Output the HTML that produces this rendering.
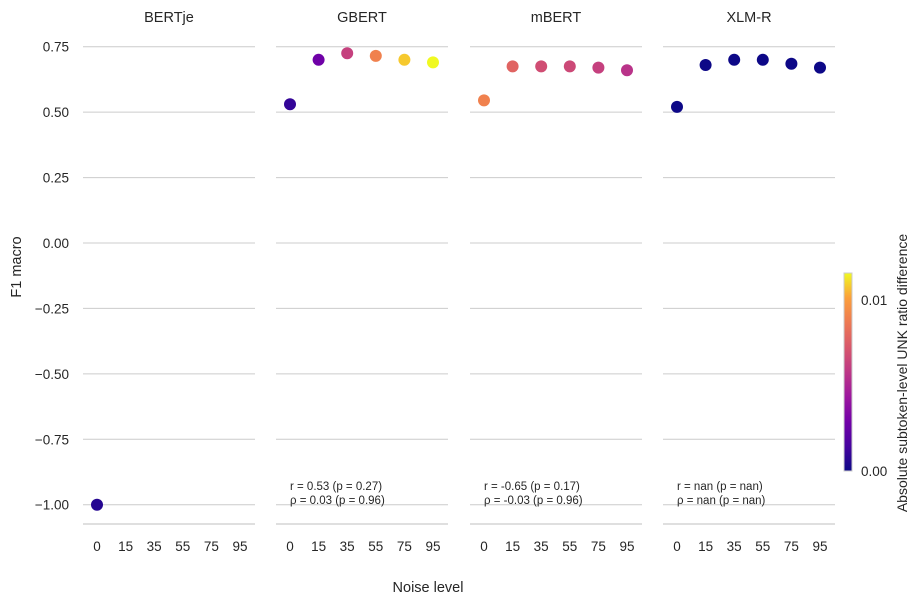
<!DOCTYPE html>
<html><head><meta charset="utf-8"><style>
body{margin:0;background:#fff;font-family:"Liberation Sans",sans-serif}
</style></head><body>
<svg id="c" width="920" height="605" viewBox="0 0 920 605" xmlns="http://www.w3.org/2000/svg" font-family="Liberation Sans, DejaVu Sans, sans-serif">
<defs>
<linearGradient id="plasma2" x1="0" y1="1" x2="0" y2="0">
<stop offset="0" stop-color="#0d0887"/><stop offset="0.125" stop-color="#46039f"/><stop offset="0.25" stop-color="#7201a8"/><stop offset="0.375" stop-color="#9c179e"/><stop offset="0.5" stop-color="#bd3786"/><stop offset="0.625" stop-color="#d8576b"/><stop offset="0.75" stop-color="#ed7953"/><stop offset="0.875" stop-color="#fb9f3a"/><stop offset="1" stop-color="#f0f921"/>
</linearGradient></defs>
</svg>
<script>
const models=["BERTje","GBERT","mBERT","XLM-R"];
const categories=["0","15","35","55","75","95"];
const yTicks=[0.75,0.5,0.25,0,-0.25,-0.5,-0.75,-1];
const yTickLabels=["0.75","0.50","0.25","0.00","\u22120.25","\u22120.50","\u22120.75","\u22121.00"];
const bertjeF1=[-1.0];
const gbertF1=[0.53,0.70,0.725,0.715,0.70,0.69];
const mbertF1=[0.545,0.675,0.675,0.675,0.67,0.66];
const xlmrF1=[0.52,0.68,0.70,0.70,0.685,0.67];
const bertjeUnk=[0.0006];
const gbertUnk=[0.0010,0.0028,0.0062,0.0090,0.0108,0.0116];
const mbertUnk=[0.0090,0.0078,0.0068,0.0066,0.0062,0.0056];
const xlmrUnk=[0,0,0,0,0,0];
const annotations=[null,["r = 0.53 (p = 0.27)","\u03c1 = 0.03 (p = 0.96)"],["r = -0.65 (p = 0.17)","\u03c1 = -0.03 (p = 0.96)"],["r = nan (p = nan)","\u03c1 = nan (p = nan)"]];
const series=[bertjeF1,gbertF1,mbertF1,xlmrF1];
const colors=[bertjeUnk,gbertUnk,mbertUnk,xlmrUnk];
const cmin=0,cmax=0.01158;
const stops=["#0d0887","#46039f","#7201a8","#9c179e","#bd3786","#d8576b","#ed7953","#fb9f3a","#f0f921"];
function hex(h){return [1,3,5].map(i=>parseInt(h.substr(i,2),16));}
function cmap(v){let t=Math.max(0,Math.min(1,(v-cmin)/(cmax-cmin)))*(stops.length-1);let i=Math.min(Math.floor(t),stops.length-2),f=t-i;const a=hex(stops[i]),b=hex(stops[i+1]);return "rgb("+a.map((x,k)=>Math.round(x+(b[k]-x)*f)).join(",")+")";}
const svg=document.getElementById('c');const NS="http://www.w3.org/2000/svg";
function el(tag,attrs,parent){const e=document.createElementNS(NS,tag);for(const k in attrs)e.setAttribute(k,attrs[k]);(parent||svg).appendChild(e);return e;}
function y(v){return 243-v*261.7;}
const panelLeft=[83,276,470,663],panelW=172;
function x(p,i){return panelLeft[p]+14+i*28.6;}
for(let p=0;p<4;p++){
 const g=el('g',{});
 
 
 const L=panelLeft[p];
 const t=el('text',{x:L+panelW/2,y:22,'text-anchor':'middle','font-size':14.5,fill:'#262626'},g);t.textContent=models[p];
 
 yTicks.forEach(v=>{const l=el('line',{x1:L,x2:L+panelW,y1:y(v),y2:y(v),stroke:'#cccccc','stroke-width':1},g);
  });
 const ax=el('line',{x1:L,x2:L+panelW,y1:524,y2:524,stroke:'#cccccc','stroke-width':1.2},g);
 
 categories.forEach((c,i)=>{const tt=el('text',{x:x(p,i),y:551,'text-anchor':'middle','font-size':13.5,fill:'#262626'},g);tt.textContent=c;
  });
 series[p].forEach((v,i)=>{const d=el('circle',{cx:x(p,i),cy:y(v),r:6,fill:cmap(colors[p][i])},g);
  });
 if(annotations[p]){annotations[p].forEach((s,k)=>{const a=el('text',{x:L+14,y:490+k*14,'font-size':11.5,fill:'#262626'},g);a.textContent=s;
  });}
}
yTicks.forEach((v,k)=>{const t=el('text',{x:69,y:y(v)+5,'text-anchor':'end','font-size':13.5,fill:'#262626'});t.textContent=yTickLabels[k];
 });
const yt=el('text',{x:21,y:267,'text-anchor':'middle','font-size':14.5,fill:'#262626',transform:'rotate(-90 21 267)'});yt.textContent="F1 macro";

const xt=el('text',{x:428,y:592,'text-anchor':'middle','font-size':14.5,fill:'#262626'});xt.textContent="Noise level";

const cb=el('rect',{x:844,y:273,width:8,height:198,fill:'url(#plasma2)',stroke:'#cccccc','stroke-width':1});

[["0.01",0.01],["0.00",0]].forEach(([s,v])=>{const yy=471-(v-cmin)/(cmax-cmin)*198;const t=el('text',{x:861,y:yy+5,'font-size':13.5,fill:'#262626'});t.textContent=s;
 });
const ct=el('text',{x:907,y:373,'text-anchor':'middle','font-size':14,fill:'#262626',transform:'rotate(-90 907 373)'});ct.textContent="Absolute subtoken-level UNK ratio difference";

</script>
</body></html>
